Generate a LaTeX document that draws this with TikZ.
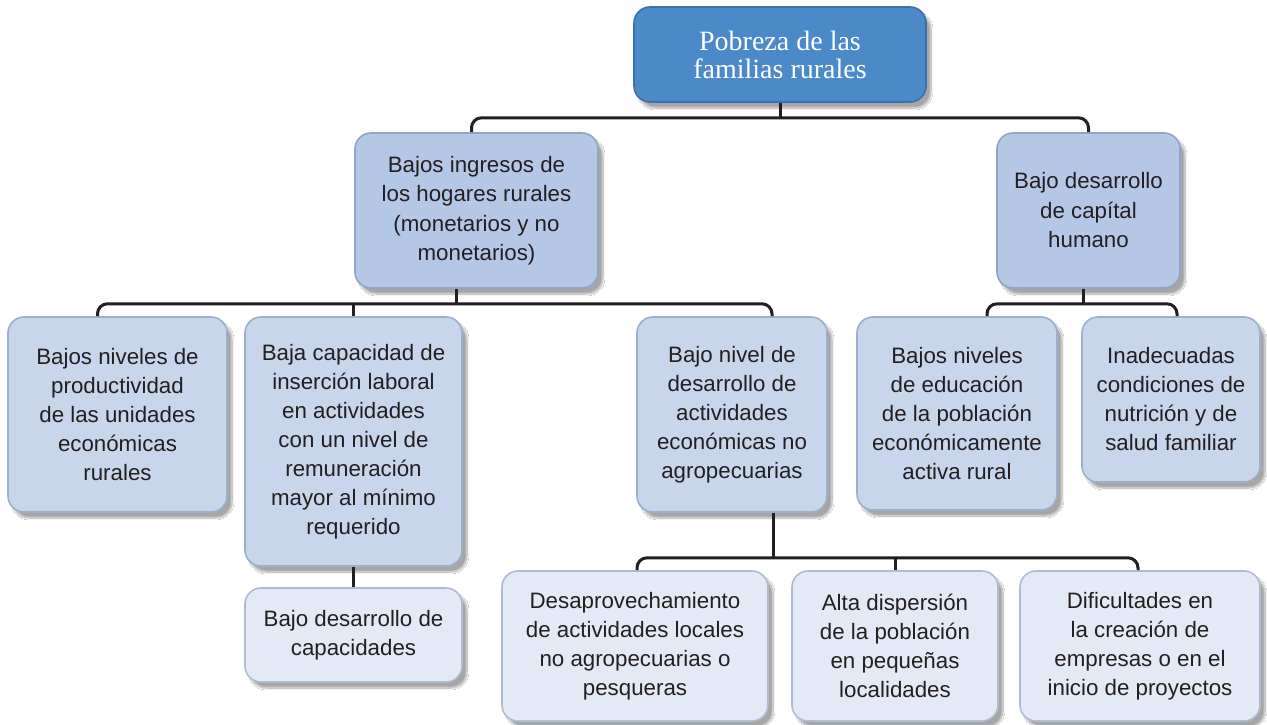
\documentclass[tikz,border=0pt]{standalone}
\usepackage{fontspec}
\setmainfont{Liberation Serif}
\newfontfamily\boxfont{Liberation Sans}
\usetikzlibrary{shadows.blur,calc}
\definecolor{topfill}{HTML}{4B89C9}
\definecolor{topdraw}{HTML}{3D70AA}
\definecolor{lvtwofill}{HTML}{B4C8E6}
\definecolor{lvtwodraw}{HTML}{8EA5C7}
\definecolor{lvthreefill}{HTML}{C7D6EB}
\definecolor{lvthreedraw}{HTML}{9CB0CD}
\definecolor{lvfourfill}{HTML}{E4EAF5}
\definecolor{lvfourdraw}{HTML}{AEBCD3}
\definecolor{linecol}{HTML}{231F20}
\definecolor{txtcol}{HTML}{231F20}
\tikzset{
  basebox/.style={rounded corners=16pt, line width=1.6pt, inner sep=0pt, align=center,
    blur shadow={shadow xshift=5pt, shadow yshift=-6pt, shadow blur steps=10, shadow opacity=35}},
  topbox/.style={basebox, fill=topfill, draw=topdraw, text=white,
    font=\fontsize{28}{28}\selectfont},
  twobox/.style={basebox, fill=lvtwofill, draw=lvtwodraw, text=txtcol,
    font=\boxfont\fontsize{22.3}{29.5}\selectfont},
  threebox/.style={basebox, fill=lvthreefill, draw=lvthreedraw, text=txtcol,
    font=\boxfont\fontsize{22.3}{29}\selectfont},
  fourbox/.style={basebox, fill=lvfourfill, draw=lvfourdraw, text=txtcol,
    font=\boxfont\fontsize{22.3}{29}\selectfont},
  conn/.style={draw=linecol, line width=3pt, rounded corners=10pt}
}
\begin{document}
\begin{tikzpicture}[x=1pt,y=-1pt]
\useasboundingbox (0,0) rectangle (1267,725);
\fill[white] (0,0) rectangle (1267,725);

\node[topbox, minimum width=292pt, minimum height=95pt] (top) at (780,54.5) {Pobreza de las\\familias rurales};

\node[twobox, minimum width=243pt, minimum height=155pt] (ing) at (476.5,210.5)
  {Bajos ingresos de\\los hogares rurales\\(monetarios y no\\monetarios)};
\node[twobox, minimum width=183pt, minimum height=155pt] (cap) at (1088.5,210.5)
  {Bajo desarrollo\\de capítal\\humano};

\node[threebox, minimum width=219pt, minimum height=195pt] (prod) at (117.5,414.5)
  {Bajos niveles de\\productividad\\de las unidades\\económicas\\rurales};
\node[threebox, minimum width=217pt, minimum height=249pt] (insc) at (353.5,441.5)
  {Baja capacidad de\\inserción laboral\\en actividades\\con un nivel de\\remuneración\\mayor al mínimo\\requerido};
\node[threebox, minimum width=190pt, minimum height=195pt] (noag) at (732,414.5)
  {Bajo nivel de\\desarrollo de\\actividades\\económicas no\\agropecuarias};
\node[threebox, minimum width=200pt, minimum height=193pt] (educ) at (957,413.5)
  {Bajos niveles\\de educación\\de la población\\económicamente\\activa rural};
\node[threebox, minimum width=178pt, minimum height=165pt] (nutr) at (1171,399.5)
  {Inadecuadas\\condiciones de\\nutrición y de\\salud familiar};

\node[fourbox, minimum width=217pt, minimum height=94pt] (capac) at (353.5,635)
  {Bajo desarrollo de\\capacidades};
\node[fourbox, minimum width=266pt, minimum height=150pt] (desa) at (635,646)
  {Desaprovechamiento\\de actividades locales\\no agropecuarias o\\pesqueras};
\node[fourbox, minimum width=206pt, minimum height=150pt] (disp) at (895,646)
  {Alta dispersión\\de la población\\en pequeñas\\localidades};
\node[fourbox, minimum width=240pt, minimum height=150pt] (dif) at (1140,646)
  {Dificultades en\\la creación de\\empresas o en el\\inicio de proyectos};

% connectors
\draw[conn] (top.south) -- ++(0,15) coordinate (j1);
\draw[conn] ([xshift=-5pt]ing.north) |- (j1) -| (cap.north);

\draw[conn] ([xshift=-20pt]ing.south) -- ++(0,15) coordinate (j2);
\draw[conn] ([xshift=-20pt]prod.north) |- (j2) -| ([xshift=40pt]noag.north);
\draw[conn] (insc.north) -- (insc.north |- j2);

\draw[conn] ([xshift=-5pt]cap.south) -- ++(0,15) coordinate (j3);
\draw[conn] ([xshift=30pt]educ.north) |- (j3) -| ([xshift=6pt]nutr.north);

\draw[conn] (insc.south) -- (capac.north);

\draw[conn] ([xshift=41pt]noag.south) -- ++(0,45) coordinate (j4);
\draw[conn] ([xshift=2pt]desa.north) |- (j4) -| ([xshift=-2pt]dif.north);
\draw[conn] (disp.north) -- (disp.north |- j4);
\end{tikzpicture}
\end{document}
